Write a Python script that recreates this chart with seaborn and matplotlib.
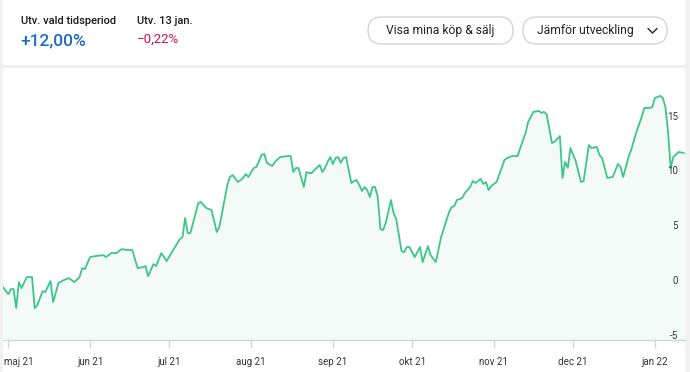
import pandas as pd
import seaborn as sns
import matplotlib.pyplot as plt
import matplotlib.transforms as mtransforms
from matplotlib.patches import Rectangle, FancyBboxPatch

# --- data ---
dates = [
    "2021-04-29", "2021-05-01", "2021-05-02", "2021-05-03", "2021-05-04", "2021-05-05",
    "2021-05-06", "2021-05-08", "2021-05-10", "2021-05-11", "2021-05-12", "2021-05-14",
    "2021-05-15", "2021-05-17", "2021-05-18", "2021-05-20", "2021-05-22", "2021-05-24",
    "2021-05-26", "2021-05-28", "2021-05-29", "2021-05-30", "2021-06-01", "2021-06-03",
    "2021-06-06", "2021-06-07", "2021-06-09", "2021-06-11", "2021-06-13", "2021-06-15",
    "2021-06-17", "2021-06-19", "2021-06-21", "2021-06-22", "2021-06-23", "2021-06-25",
    "2021-06-26", "2021-06-28", "2021-06-30", "2021-07-02", "2021-07-05", "2021-07-06",
    "2021-07-07", "2021-07-08", "2021-07-09", "2021-07-12", "2021-07-13", "2021-07-15",
    "2021-07-17", "2021-07-19", "2021-07-20", "2021-07-23", "2021-07-24", "2021-07-25",
    "2021-07-27", "2021-07-29", "2021-07-30", "2021-07-31", "2021-08-02", "2021-08-03",
    "2021-08-05", "2021-08-06", "2021-08-07", "2021-08-09", "2021-08-10", "2021-08-12",
    "2021-08-15", "2021-08-16", "2021-08-17", "2021-08-18", "2021-08-19", "2021-08-20",
    "2021-08-21", "2021-08-22", "2021-08-23", "2021-08-24", "2021-08-25", "2021-08-27",
    "2021-08-28", "2021-08-29", "2021-08-30", "2021-08-31", "2021-09-01", "2021-09-02",
    "2021-09-03", "2021-09-04", "2021-09-05", "2021-09-06", "2021-09-07", "2021-09-08",
    "2021-09-09", "2021-09-10", "2021-09-11", "2021-09-12", "2021-09-13", "2021-09-14",
    "2021-09-15", "2021-09-16", "2021-09-17", "2021-09-18", "2021-09-19", "2021-09-20",
    "2021-09-21", "2021-09-23", "2021-09-24", "2021-09-25", "2021-09-27", "2021-09-28",
    "2021-09-29", "2021-09-30", "2021-10-02", "2021-10-04", "2021-10-05", "2021-10-07",
    "2021-10-08", "2021-10-10", "2021-10-12", "2021-10-15", "2021-10-16", "2021-10-17",
    "2021-10-18", "2021-10-20", "2021-10-21", "2021-10-23", "2021-10-24", "2021-10-25",
    "2021-10-27", "2021-10-28", "2021-10-29", "2021-10-30", "2021-10-31", "2021-11-02",
    "2021-11-03", "2021-11-05", "2021-11-06", "2021-11-08", "2021-11-10", "2021-11-11",
    "2021-11-13", "2021-11-14", "2021-11-15", "2021-11-16", "2021-11-18", "2021-11-19",
    "2021-11-20", "2021-11-21", "2021-11-23", "2021-11-24", "2021-11-25", "2021-11-26",
    "2021-11-27", "2021-11-28", "2021-11-29", "2021-11-30", "2021-12-02", "2021-12-04",
    "2021-12-05", "2021-12-07", "2021-12-08", "2021-12-10", "2021-12-11", "2021-12-12",
    "2021-12-14", "2021-12-16", "2021-12-18", "2021-12-19", "2021-12-20", "2021-12-22",
    "2021-12-23", "2021-12-25", "2021-12-27", "2021-12-28", "2021-12-30", "2021-12-31",
    "2022-01-01", "2022-01-03", "2022-01-04", "2022-01-05", "2022-01-06", "2022-01-07",
    "2022-01-08", "2022-01-10", "2022-01-12",
]
values = [
    -0.64, -1.28, -0.82, -0.82, -2.55, -0.18,
    -0.73, 0.27, 0.27, -2.55, -2.28, -1.00,
    -1.09, -0.09, -2.00, -0.27, 0.00, 0.18,
    -0.18, 0.27, 1.09, 1.00, 2.10, 2.19,
    2.28, 2.10, 2.46, 2.46, 2.83, 2.74,
    2.74, 1.09, 1.19, 1.28, 0.36, 1.46,
    1.28, 2.46, 1.73, 2.55, 3.74, 3.90,
    5.66, 4.29, 4.29, 7.03, 7.12, 6.57,
    6.39, 4.38, 4.84, 8.67, 9.40, 9.58,
    8.94, 9.31, 9.67, 9.40, 10.22, 10.31,
    11.41, 11.50, 10.68, 10.40, 10.77, 11.22,
    11.31, 11.31, 9.85, 10.22, 10.22, 9.31,
    8.49, 9.85, 9.76, 9.76, 10.04, 10.49,
    9.85, 10.22, 10.77, 11.22, 10.58, 11.13,
    11.22, 10.68, 11.13, 11.22, 10.04, 8.85,
    9.03, 9.12, 8.67, 8.12, 8.49, 8.21,
    7.57, 8.49, 8.49, 7.57, 4.65, 4.56,
    5.20, 7.30, 6.11, 5.57, 2.65, 2.55,
    3.01, 3.01, 2.10, 3.01, 1.64, 3.10,
    2.28, 1.64, 3.92, 6.20, 6.66, 6.75,
    7.30, 7.48, 7.94, 8.49, 9.03, 8.85,
    9.22, 8.76, 8.94, 8.21, 8.58, 8.94,
    9.58, 10.95, 11.13, 11.31, 11.31, 12.04,
    13.41, 14.42, 14.87, 15.33, 15.42, 15.24,
    15.33, 15.10, 12.50, 12.60, 12.87, 13.14,
    9.31, 10.77, 10.22, 12.04, 10.86, 8.94,
    9.03, 12.32, 12.04, 12.14, 11.41, 11.13,
    9.31, 9.40, 10.58, 10.31, 9.40, 11.22,
    11.86, 13.50, 14.87, 15.69, 15.69, 15.78,
    16.60, 16.79, 16.60, 15.78, 13.50, 10.22,
    11.22, 11.68, 11.59,
]

month_ticks = ["2021-05-01", "2021-06-01", "2021-07-01", "2021-08-01", "2021-09-01",
               "2021-10-01", "2021-11-01", "2021-12-01", "2022-01-01"]
month_labels = ["maj 21", "jun 21", "jul 21", "aug 21", "sep 21",
                "okt 21", "nov 21", "dec 21", "jan 22"]
y_ticks = [-5, 0, 5, 10, 15]

period_label = "Utv. vald tidsperiod"
period_value = "+12,00%"
day_label = "Utv. 13 jan."
day_value = "\u22120,22%"
button_labels = ["Visa mina köp & sälj", "Jämför utveckling"]

line_color = "#3cc68b"
fill_color = "#f4faf8"

sns.set_theme(style="white")
plt.rcParams["font.family"] = ["Roboto", "DejaVu Sans"]
plt.rcParams["axes.unicode_minus"] = False

W, H = 690, 372
fig = plt.figure(figsize=(W / 100, H / 100), dpi=100)
fig.patch.set_facecolor("#f1f1f1")

# background layer in pixel coordinates (cards, header, buttons)
bg = fig.add_axes([0, 0, 1, 1])
bg.set_xlim(0, W)
bg.set_ylim(H, 0)
bg.axis("off")
bg.add_patch(Rectangle((3, 0), 682, 65, facecolor="white", edgecolor="none"))
bg.add_patch(Rectangle((3, 67.5), 682, H - 67.5, facecolor="white", edgecolor="none"))

bg.text(21, 21, period_label, fontsize=8, fontweight=500, color="#1a1a1a", va="center")
bg.text(20.5, 41, period_value, fontsize=12.5, fontweight=500, color="#1f6bc4", va="center")
bg.text(137, 21, day_label, fontsize=8, fontweight=500, color="#1a1a1a", va="center")
bg.text(137, 39.5, day_value, fontsize=9.5, color="#cf1150", va="center")

for (x0, x1), txt in zip([(368, 513), (523, 667)], button_labels):
    bg.add_patch(FancyBboxPatch((x0, 17), x1 - x0, 27,
                                boxstyle="round,pad=0,rounding_size=13.5",
                                facecolor="white", edgecolor="#d4d4d4", lw=1))
bg.text(440.5, 30.5, button_labels[0], fontsize=8.7, color="#222222", ha="center", va="center")
bg.text(537, 30.5, button_labels[1], fontsize=8.7, color="#222222", ha="left", va="center")
bg.plot([648, 652.5, 657], [28.5, 33, 28.5], color="#333333", lw=1.1)

# chart
df = pd.DataFrame({"date": pd.to_datetime(dates), "value": values})
y_bottom, y_top = -5.46, 19.38

ax = fig.add_axes([3 / W, (H - 340) / H, 682 / W, (340 - 67.5) / H])
ax.patch.set_alpha(0)
ax.set_axisbelow(False)
ax.fill_between(df["date"], df["value"], y_bottom, color=fill_color, lw=0, zorder=1)
sns.lineplot(data=df, x="date", y="value", ax=ax, color=line_color, linewidth=1.3, zorder=2)

ax.set_xlim(pd.Timestamp("2021-04-29"), pd.Timestamp("2022-01-12 10:00"))
ax.set_ylim(y_bottom, y_top)
ax.set_xlabel("")
ax.set_ylabel("")

ax.set_xticks(pd.to_datetime(month_ticks), labels=month_labels)
ax.set_yticks(y_ticks, labels=[str(v) for v in y_ticks])
ax.yaxis.tick_right()
ax.tick_params(axis="y", length=0, pad=-5, labelsize=7, labelcolor="#333333",
               labelright=True, labelleft=False)
for lbl in ax.get_yticklabels():
    lbl.set_ha("right")
ax.tick_params(axis="x", bottom=True, length=6, width=1, color="#d6d6d6", pad=6,
               labelsize=7, labelcolor="#333333", direction="out")

first = ax.get_xticklabels()[0]
first.set_ha("left")
first.set_transform(first.get_transform() +
                    mtransforms.ScaledTranslation(-4 / 100, 0, fig.dpi_scale_trans))

for side in ["top", "left", "right"]:
    ax.spines[side].set_visible(False)
ax.spines["bottom"].set_color("#d6d6d6")
ax.spines["bottom"].set_linewidth(1)

fig.savefig("out.png", dpi=100)
